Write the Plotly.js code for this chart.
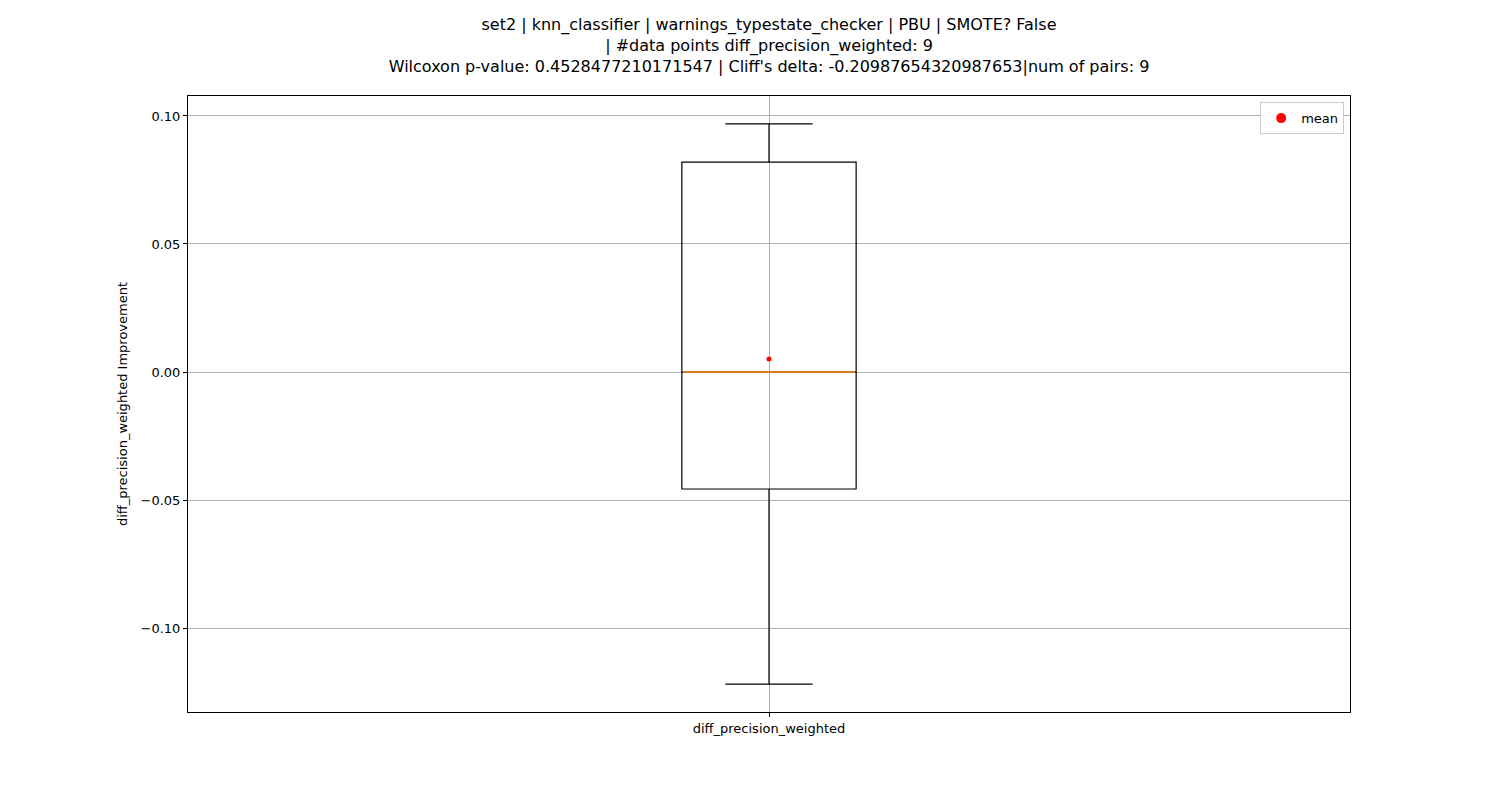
<!DOCTYPE html>
<html>
<head>
<meta charset="utf-8">
<script src="https://cdn.plot.ly/plotly-3.0.1.min.js"></script>
<style>body{margin:0;background:#fff;}</style>
</head>
<body>
<div id="chart" style="width:1500px;height:800px;"></div>
<script>
// Box statistics
var boxName = "diff_precision_weighted";
var q1 = [-0.0457];
var median = [0.0];
var q3 = [0.0820];
var lowerFence = [-0.1219];
var upperFence = [0.0969];
var meanValue = [0.0051];

var yTickVals = [-0.10, -0.05, 0.00, 0.05, 0.10];
var yTickText = ["\u22120.10", "\u22120.05", "0.00", "0.05", "0.10"];

var titleLines = [
    "set2 | knn_classifier | warnings_typestate_checker | PBU | SMOTE? False",
    "| #data points diff_precision_weighted: 9",
    "Wilcoxon p-value: 0.4528477210171547 | Cliff's delta: -0.20987654320987653|num of pairs: 9"
];

var boxWidth = 0.15;

var traces = [
    {
        type: 'box', x: [0], q1: q1, median: median, q3: q3,
        lowerfence: lowerFence, upperfence: upperFence,
        width: boxWidth, whiskerwidth: 0.5,
        line: {color: 'black', width: 1.2}, fillcolor: 'rgba(0,0,0,0)',
        showlegend: false, hoverinfo: 'skip'
    },
    {
        // median drawn in orange like matplotlib
        type: 'scatter', mode: 'lines',
        x: [-boxWidth / 2 + 0.001, boxWidth / 2 - 0.001], y: [median[0], median[0]],
        line: {color: '#ff7f0e', width: 1.6}, showlegend: false
    },
    {
        type: 'scatter', mode: 'markers', x: [0], y: meanValue,
        marker: {color: 'red', size: 5}, name: 'mean', showlegend: false
    },
    {
        // legend entry with larger marker
        type: 'scatter', mode: 'markers', x: [null], y: [null],
        marker: {color: 'red', size: 10}, name: 'mean'
    }
];

var layout = {
    width: 1500, height: 800,
    margin: {l: 188, r: 150, t: 96, b: 88},
    paper_bgcolor: 'white', plot_bgcolor: 'white',
    font: {family: 'DejaVu Sans', size: 13, color: 'black'},
    title: {
        text: titleLines.join('<br>'),
        x: 0.5, xref: 'paper', y: 0.962, yref: 'container', yanchor: 'top',
        font: {family: 'DejaVu Sans', size: 16, color: 'black'}
    },
    xaxis: {
        range: [-0.5, 0.5], tickvals: [0], ticktext: [boxName],
        showgrid: true, gridcolor: '#b0b0b0', zeroline: false,
        showline: true, mirror: true, linecolor: 'black',
        ticks: 'outside', ticklen: 4, tickcolor: 'black'
    },
    yaxis: {
        range: [-0.1328, 0.1078], tickvals: yTickVals, ticktext: yTickText,
        showgrid: true, gridcolor: '#b0b0b0', zeroline: false,
        showline: true, mirror: true, linecolor: 'black',
        ticks: 'outside', ticklen: 4, tickcolor: 'black',
        title: {text: 'diff_precision_weighted Improvement', font: {size: 13}, standoff: 10}
    },
    legend: {
        x: 0.995, y: 0.99, xanchor: 'right', yanchor: 'top',
        bordercolor: '#cccccc', borderwidth: 1, bgcolor: 'white',
        font: {size: 13}
    }
};

Plotly.newPlot('chart', traces, layout, {displayModeBar: false});
</script>
</body>
</html>
